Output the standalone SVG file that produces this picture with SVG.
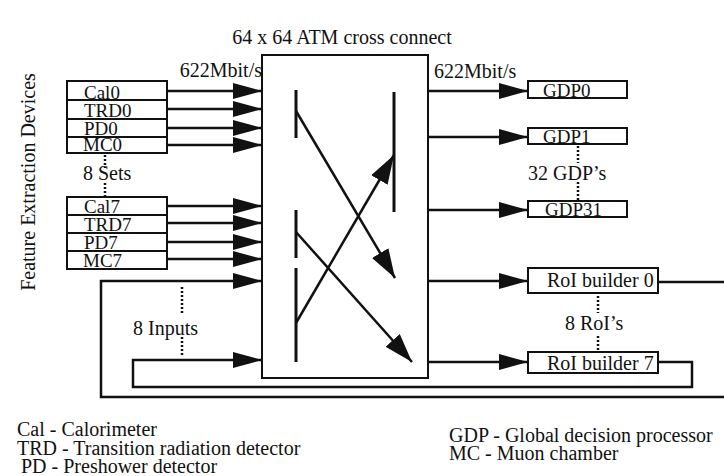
<svg xmlns="http://www.w3.org/2000/svg" width="724" height="476" viewBox="0 0 724 476" font-family="'Liberation Serif', 'DejaVu Serif', serif">
<style>
text{font-family:'Liberation Serif','DejaVu Serif',serif;font-size:20px;fill:#111}
.lab{font-size:19px}
.box{fill:#fff;stroke:#111;stroke-width:2}
.ln{fill:none;stroke:#111;stroke-width:2.5}
.bar{fill:none;stroke:#111;stroke-width:3}
.dot{fill:none;stroke:#111;stroke-width:2.5;stroke-dasharray:2 2}
.ah{marker-end:url(#ah)}
.ab{marker-end:url(#ab)}
</style>
<defs>
<marker id="ah" markerUnits="userSpaceOnUse" markerWidth="30" markerHeight="18" refX="29" refY="8" orient="auto">
<path d="M0,0 L29,8 L0,16 z" fill="#111"/>
</marker>
<marker id="ab" markerUnits="userSpaceOnUse" markerWidth="30" markerHeight="20" refX="29" refY="9.5" orient="auto">
<path d="M0,0 L29,9.5 L0,19 z" fill="#111"/>
</marker>
</defs>
<rect width="724" height="476" fill="#fff"/>

<text x="342" y="44" text-anchor="middle">64 x 64 ATM cross connect</text>
<text transform="translate(35,182) rotate(-90)" text-anchor="middle">Feature Extraction Devices</text>
<text x="262" y="77" text-anchor="end">622Mbit/s</text>
<text x="434" y="78">622Mbit/s</text>

<g id="connectors">
<line class="ln ah" x1="167" y1="91" x2="262" y2="91"/>
<line class="ln ah" x1="167" y1="109" x2="262" y2="109"/>
<line class="ln ah" x1="167" y1="128" x2="262" y2="128"/>
<line class="ln ah" x1="167" y1="145" x2="262" y2="145"/>
<line class="ln ah" x1="167" y1="206" x2="262" y2="206"/>
<line class="ln ah" x1="167" y1="223" x2="262" y2="223"/>
<line class="ln ah" x1="167" y1="242" x2="262" y2="242"/>
<line class="ln ah" x1="167" y1="259" x2="262" y2="259"/>
<line class="ln ah" x1="428" y1="91" x2="528" y2="91"/>
<line class="ln ah" x1="428" y1="137" x2="528" y2="137"/>
<line class="ln ah" x1="428" y1="210" x2="528" y2="210"/>
<line class="ln ah" x1="428" y1="281" x2="528" y2="281"/>
<line class="ln ah" x1="428" y1="362" x2="528" y2="362"/>
<line class="ln" x1="658" y1="282" x2="726" y2="282"/>
<path class="ln ah" d="M726,397 L101,397 L101,281 L262,281"/>
<path class="ln ah" d="M658,362 L692,362 L692,387 L133,387 L133,360 L262,360"/>
<line class="dot" x1="105" y1="155" x2="105" y2="168"/>
<line class="dot" x1="105" y1="183" x2="105" y2="196"/>
<line class="dot" x1="578" y1="146" x2="578" y2="163"/>
<line class="dot" x1="578" y1="182" x2="578" y2="200"/>
<line class="dot" x1="598" y1="296" x2="598" y2="313"/>
<line class="dot" x1="598" y1="336" x2="598" y2="351"/>
<line class="dot" x1="182" y1="287" x2="182" y2="314"/>
<line class="dot" x1="182" y1="337" x2="182" y2="356"/>
</g>

<g id="crossbar">
<rect class="box" x="262" y="55" width="166" height="323"/>
<line class="bar" x1="296" y1="90" x2="296" y2="138"/>
<line class="bar" x1="296" y1="210" x2="296" y2="258"/>
<line class="bar" x1="296" y1="268" x2="296" y2="362"/>
<line class="bar" x1="394" y1="92" x2="394" y2="212"/>
<line class="ln ab" x1="296" y1="111" x2="395" y2="278"/>
<line class="ln ab" x1="296" y1="232" x2="412" y2="362"/>
<line class="ln ab" x1="296" y1="323" x2="394" y2="155"/>
</g>

<g id="Cal0"><rect class="box" x="67" y="81" width="100" height="19"/><text class="lab" x="84" y="99">Cal0</text></g>
<g id="TRD0"><rect class="box" x="67" y="100" width="100" height="19"/><text class="lab" x="84" y="117">TRD0</text></g>
<g id="PD0"><rect class="box" x="67" y="119" width="100" height="18"/><text class="lab" x="84" y="135">PD0</text></g>
<g id="MC0"><rect class="box" x="67" y="137" width="100" height="16"/><text class="lab" x="83" y="151">MC0</text></g>
<g id="sets"><text x="83" y="180">8 Sets</text></g>
<g id="Cal7"><rect class="box" x="67" y="197" width="100" height="18"/><text class="lab" x="84" y="213">Cal7</text></g>
<g id="TRD7"><rect class="box" x="67" y="215" width="100" height="18"/><text class="lab" x="84" y="231">TRD7</text></g>
<g id="PD7"><rect class="box" x="67" y="233" width="100" height="18"/><text class="lab" x="84" y="249">PD7</text></g>
<g id="MC7"><rect class="box" x="67" y="251" width="100" height="18"/><text class="lab" x="83" y="267">MC7</text></g>
<g id="inputs"><text x="133" y="335">8 Inputs</text></g>

<g id="GDP0"><rect class="box" x="528" y="81" width="99" height="17"/><text class="lab" x="543" y="97">GDP0</text></g>
<g id="GDP1"><rect class="box" x="528" y="128" width="99" height="16"/><text class="lab" x="543" y="143">GDP1</text></g>
<g id="gdps"><text x="528" y="180">32 GDP’s</text></g>
<g id="GDP31"><rect class="box" x="528" y="201" width="99" height="16"/><text class="lab" x="545" y="216">GDP31</text></g>
<g id="RoI0"><rect class="box" x="528" y="268" width="130" height="25"/><text x="547" y="287">RoI builder 0</text></g>
<g id="rois"><text x="565" y="330">8 RoI’s</text></g>
<g id="RoI7"><rect class="box" x="528" y="352" width="130" height="21"/><text x="547" y="370">RoI builder 7</text></g>

<g id="legend">
<text x="17" y="436">Cal - Calorimeter</text>
<text x="17" y="455">TRD - Transition radiation detector</text>
<text x="21" y="473">PD - Preshower detector</text>
<text x="449" y="442">GDP - Global decision processor</text>
<text x="449" y="460">MC - Muon chamber</text>
</g>
</svg>
